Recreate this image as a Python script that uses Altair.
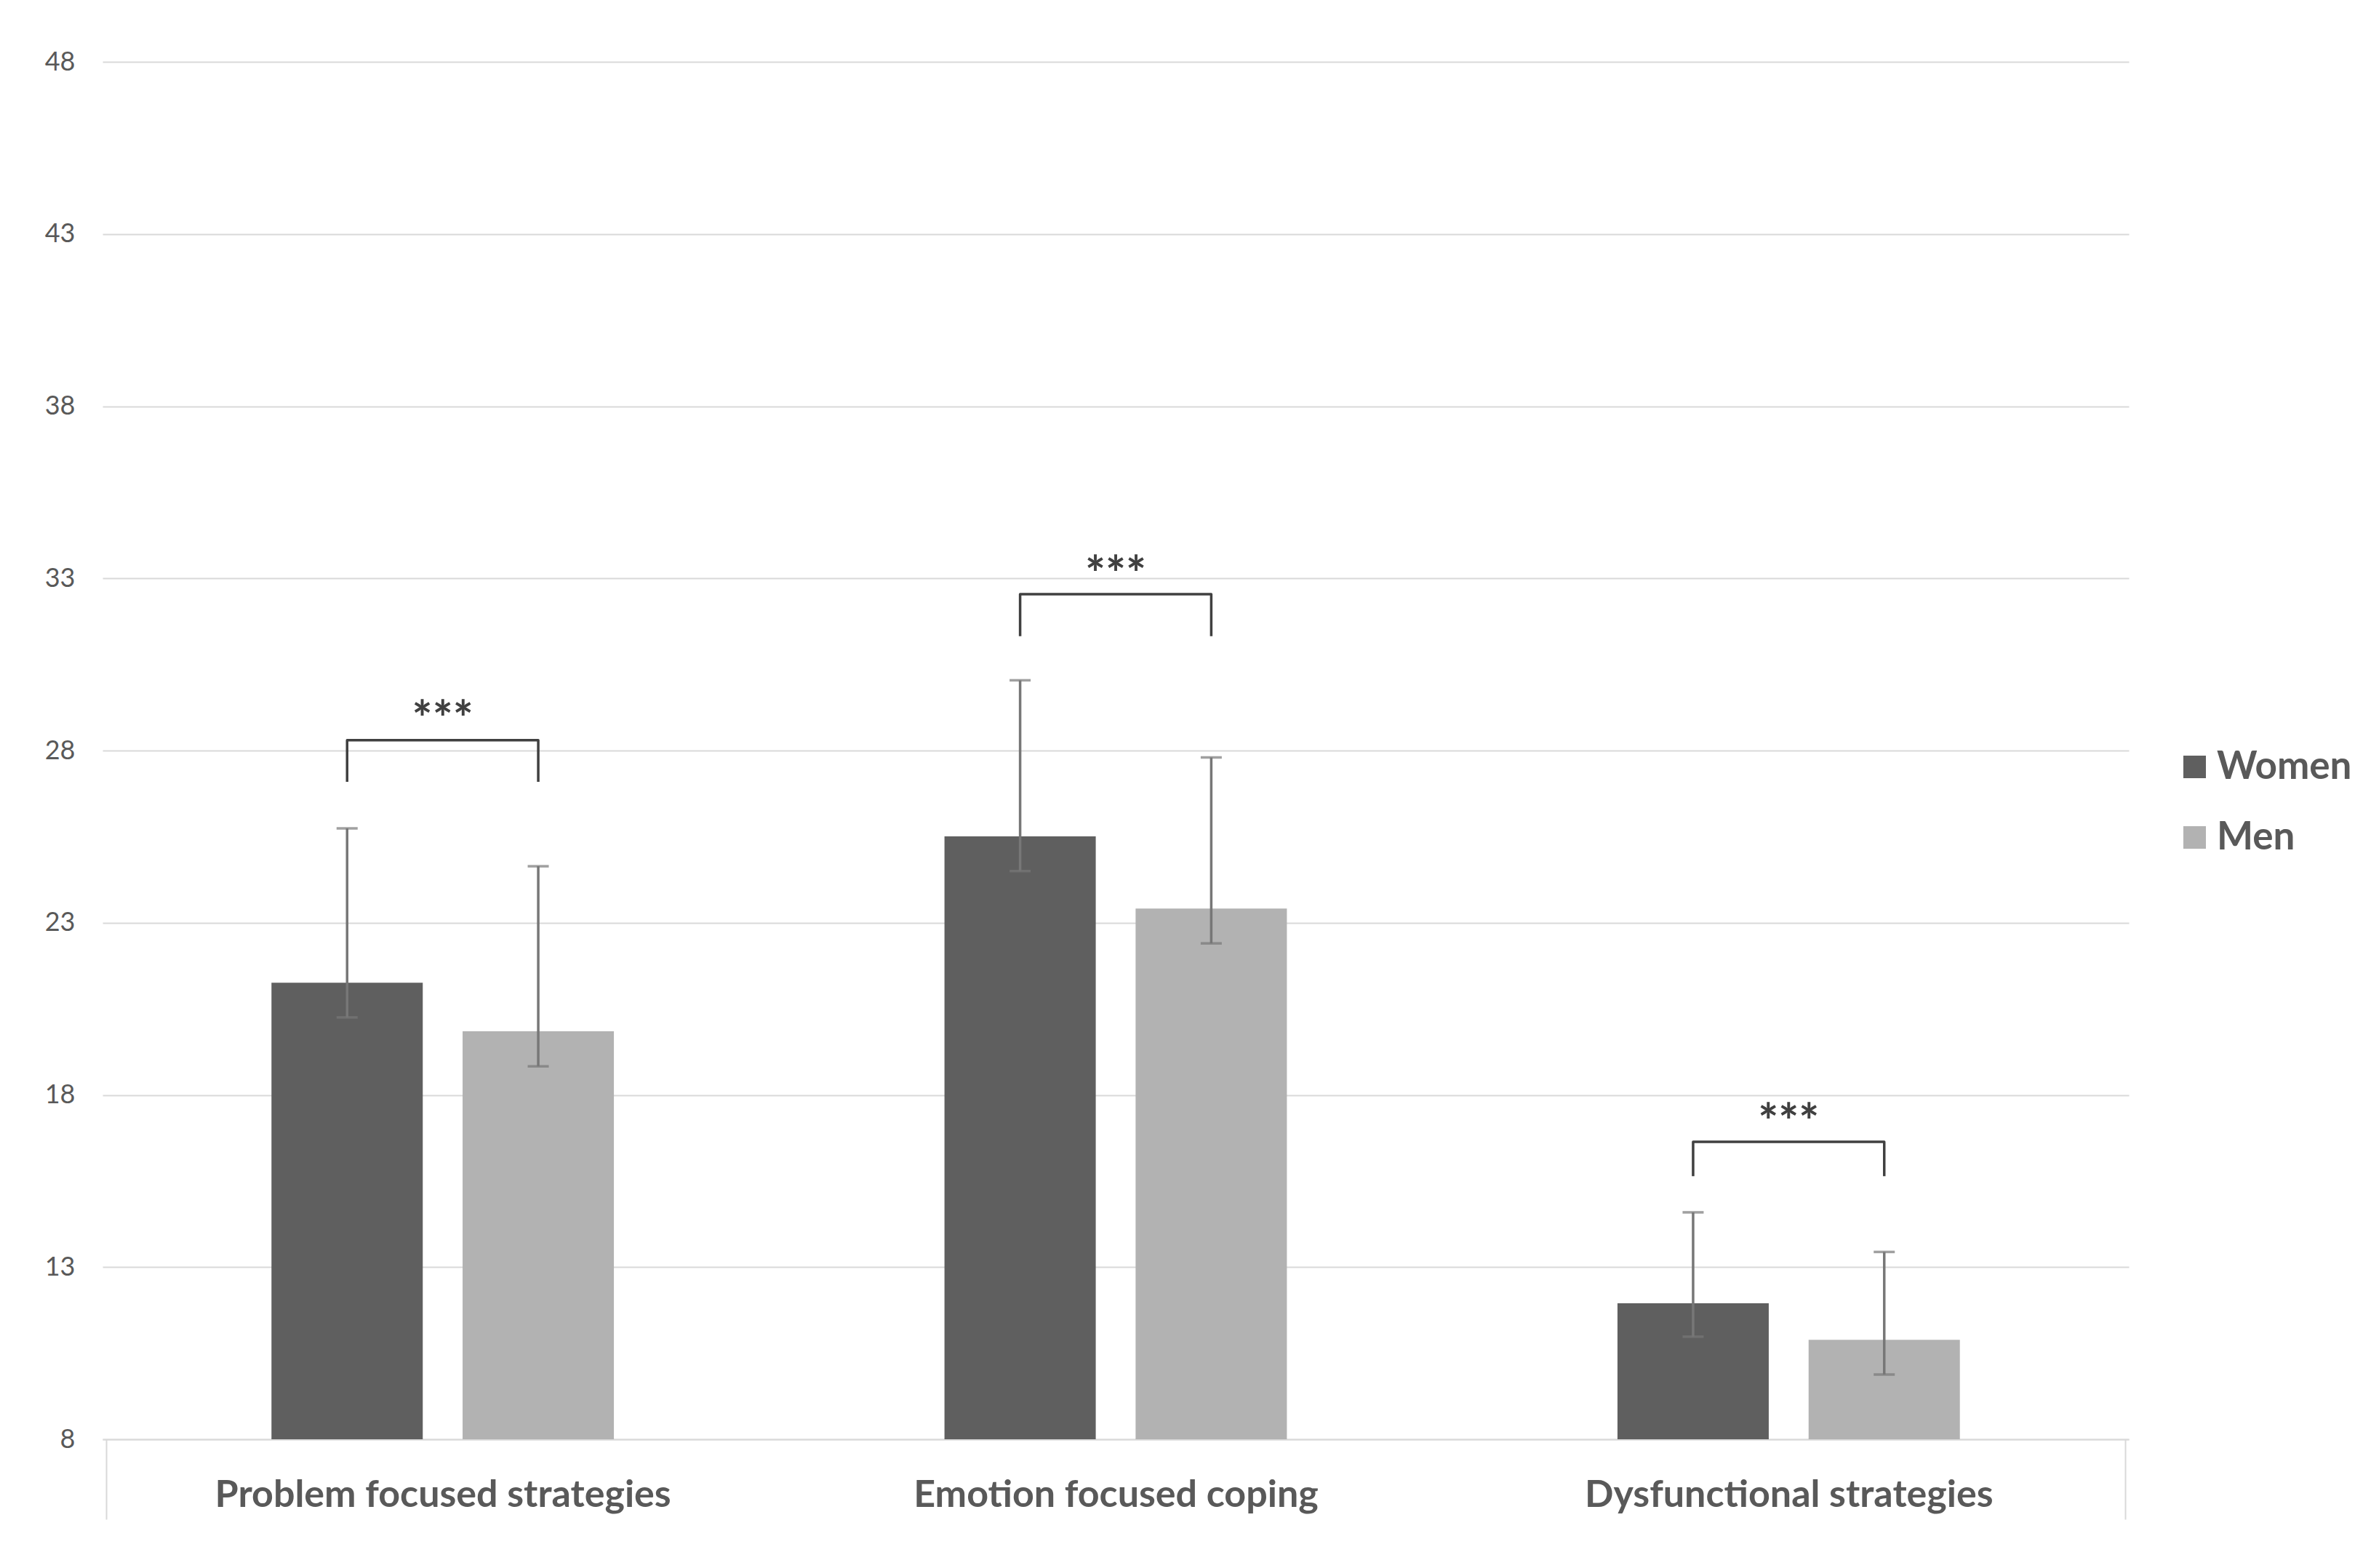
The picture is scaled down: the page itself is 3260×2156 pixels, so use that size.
import altair as alt
import pandas as pd

# ---- data ----
categories = ["Problem focused strategies", "Emotion focused coping", "Dysfunctional strategies"]
groups = ["Women", "Men"]
women_mean = [21.26, 25.51, 11.95]
men_mean = [19.85, 23.41, 10.89]
women_upper = [25.74, 30.04, 14.59]
women_lower = [20.25, 24.50, 10.98]
men_upper = [24.64, 27.80, 13.44]
men_lower = [18.83, 22.40, 9.88]
sig_labels = ["***", "***", "***"]
bracket_top = [28.30, 32.54, 16.64]
bracket_leg = [27.09, 31.32, 15.64]
sig_y = [29.22, 33.43, 17.52]
y_ticks = [8, 13, 18, 23, 28, 33, 38, 43, 48]

# ---- layout / style ----
group_offset = {"Women": -0.142, "Men": 0.142}
colors = ["#5f5f5f", "#b2b2b2"]
FONT = "Lato"
TEXT = "#595959"
GRID = "#d9d9d9"

rows = []
for i, c in enumerate(categories):
    for g, m, lo, hi in (("Women", women_mean[i], women_lower[i], women_upper[i]),
                         ("Men", men_mean[i], men_lower[i], men_upper[i])):
        rows.append({"idx": i, "category": c, "group": g, "mean": m, "lo": lo, "hi": hi,
                     "xpos": i + group_offset[g], "base": y_ticks[0]})
bars = pd.DataFrame(rows)

br_rows = []
for i in range(len(categories)):
    xl = i + group_offset["Women"]
    xr = i + group_offset["Men"]
    pts = [(xl, bracket_leg[i]), (xl, bracket_top[i]), (xr, bracket_top[i]), (xr, bracket_leg[i])]
    for k, (x, y) in enumerate(pts):
        br_rows.append({"bracket": i, "order": k, "x": x, "y": y})
brackets = pd.DataFrame(br_rows)

sig = pd.DataFrame({"idx": list(range(len(categories))), "label": sig_labels, "y": sig_y})

label_expr = " : ".join(
    [f"datum.value == {i} ? '{c}'" for i, c in enumerate(categories)]
) + " : ''"

x_scale = alt.Scale(domain=[-0.5, 2.5], nice=False, zero=False)
y_scale = alt.Scale(domain=[8, 48], nice=False, zero=False)

x_axis = alt.Axis(
    values=[-0.5, 0, 1, 2, 2.5], grid=False, title=None,
    domain=True, domainColor=GRID, domainWidth=2,
    ticks=True, tickSize=110, tickColor=GRID, tickWidth=2,
    tickOpacity={"condition": {"test": "datum.value < 0 || datum.value > 2", "value": 1}, "value": 0},
    labelExpr=label_expr, labelFont=FONT, labelFontSize=52, labelFontWeight="bold",
    labelColor=TEXT, labelPadding=-18, labelBaseline="alphabetic",
    labelFlush=False, labelOverlap=False, labelLimit=2000,
)
y_axis = alt.Axis(
    values=y_ticks, grid=True, gridColor=GRID, gridWidth=2, ticks=False, domain=False,
    labelFont=FONT, labelFontSize=36, labelColor=TEXT, labelPadding=38, title=None,
)

base = alt.Chart(bars)

bar_layer = base.mark_bar(size=208).encode(
    x=alt.X("xpos:Q", scale=x_scale, axis=x_axis),
    y=alt.Y("mean:Q", scale=y_scale, axis=y_axis),
    y2="base:Q",
    color=alt.Color(
        "group:N",
        scale=alt.Scale(domain=groups, range=colors),
        legend=alt.Legend(
            title=None, orient="none", legendX=2850, legendY=943,
            symbolType="square", symbolSize=961, symbolStrokeWidth=0,
            labelFont=FONT, labelFontSize=53, labelFontWeight="bold", labelColor=TEXT,
            labelOffset=4, rowPadding=43, padding=0, labelLimit=1000,
        ),
    ),
)

err_rule = base.mark_rule(color="#777777", strokeWidth=3.5).encode(
    x="xpos:Q", y="lo:Q", y2="hi:Q"
)
cap_hi = base.mark_tick(orient="horizontal", size=29, thickness=3.5, color="#777777").encode(
    x="xpos:Q", y="hi:Q"
)
cap_lo = base.mark_tick(orient="horizontal", size=29, thickness=3.5, color="#777777").encode(
    x="xpos:Q", y="lo:Q"
)

bracket_layer = alt.Chart(brackets).mark_line(
    color="#404040", strokeWidth=3.5, strokeJoin="round"
).encode(x="x:Q", y="y:Q", detail="bracket:N", order="order:Q")

sig_layer = alt.Chart(sig).mark_text(
    font=FONT, fontSize=66, fontWeight="bold", color="#404040", baseline="middle", dy=18
).encode(x="idx:Q", y="y:Q", text="label:N")

chart = alt.layer(bar_layer, err_rule, cap_hi, cap_lo, bracket_layer, sig_layer).properties(
    width=2786, height=1894,
    autosize=alt.AutoSizeParams(type="none"),
    padding={"left": 133, "top": 77, "right": 320, "bottom": 150},
).configure(background="white").configure_view(stroke=None)

chart.save("out.html", embed_options={"renderer": "svg", "actions": False})
